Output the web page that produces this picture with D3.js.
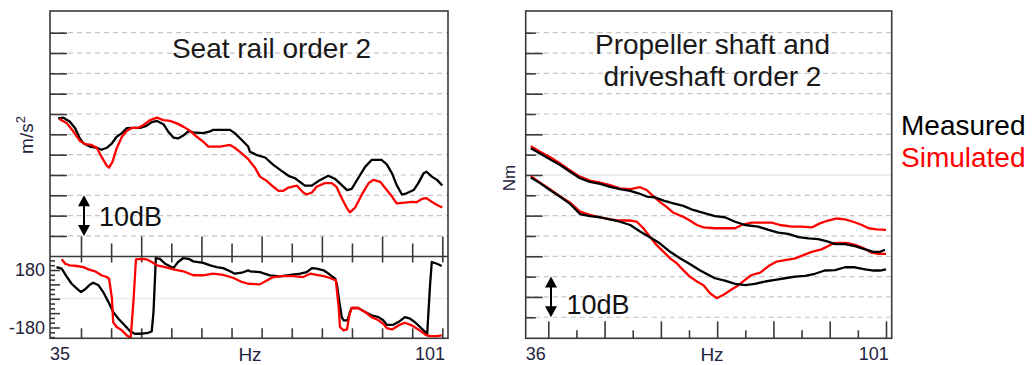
<!DOCTYPE html>
<html><head><meta charset="utf-8">
<script src="https://cdn.jsdelivr.net/npm/d3@7/dist/d3.min.js"></script>
<style>
html,body{margin:0;padding:0;background:#fff;}
svg{display:block;font-family:"Liberation Sans",Arial,sans-serif;}
</style></head><body>
<svg id="chart" width="1032" height="365"></svg>
<script>
// ---------------- DATA ----------------
// x ticks (Hz) shared by both charts; even index = major tick
const hzTicks = [39.2, 44.35, 49.5, 54.65, 59.8, 64.95, 70.1, 75.25, 80.4, 85.55, 90.7, 95.85, 101];
const leftXLabels = ["35", "101"];
const rightXLabels = ["36", "101"];
const phaseLabels = [180, -180];
const seriesNames = ["Measured", "Simulated"];
const titles = ["Seat rail order 2", "Propeller shaft and", "driveshaft order 2"];

// Seat rail magnitude [Hz, dB]
const seatMagMeasured = [[35.3,13.9],[36.2,14.1],[37.3,13.1],[38.2,11.5],[39.0,9.0],[39.6,7.8],[40.7,7.0],[41.9,6.7],[42.7,6.2],[43.6,6.7],[44.5,7.8],[45.3,9.4],[46.2,10.3],[47.0,11.5],[48.2,11.6],[49.3,11.6],[50.4,12.1],[51.3,13.0],[52.2,13.3],[53.3,12.5],[54.1,10.7],[55.0,9.2],[55.8,9.0],[56.7,9.7],[57.6,10.8],[58.4,10.5],[60.1,10.3],[61.3,10.7],[61.8,11.1],[63.5,11.1],[64.7,11.1],[65.5,10.3],[66.7,8.6],[67.8,7.0],[68.1,5.7],[69.3,4.9],[70.7,4.3],[72.1,2.5],[73.5,1.0],[74.7,-0.2],[75.8,-0.8],[77.5,-2.6],[78.7,-2.6],[79.8,-1.5],[81.5,-0.2],[82.7,-1.0],[83.8,-2.5],[84.7,-3.7],[85.5,-3.4],[86.6,-0.8],[87.8,2.0],[88.9,3.7],[90.6,3.7],[91.5,2.6],[92.4,0.4],[93.2,-2.5],[94.1,-4.8],[94.9,-4.5],[96.1,-3.7],[96.9,-2.0],[97.8,0.4],[98.3,0.8],[99.2,-0.4],[100.1,-1.2],[101.0,-2.6]];
const seatMagSimulated = [[35.5,13.8],[36.8,12.7],[37.9,10.7],[39.0,8.4],[39.9,7.6],[41.0,7.4],[41.9,6.7],[42.7,4.5],[43.6,2.3],[44.0,1.8],[44.6,3.3],[45.3,6.6],[46.2,9.4],[47.0,10.8],[47.9,11.6],[49.0,11.6],[49.9,12.3],[51.0,13.5],[52.2,14.1],[53.3,13.5],[54.4,13.3],[55.6,12.7],[56.7,11.9],[57.9,10.8],[59.0,9.4],[60.1,8.2],[61.0,7.0],[63.0,7.0],[64.7,7.4],[65.5,6.7],[66.7,5.3],[67.8,3.9],[68.1,3.3],[69.0,1.7],[69.8,-0.4],[71.0,-1.5],[72.1,-2.9],[73.0,-3.9],[73.8,-3.9],[74.7,-3.1],[76.1,-2.6],[77.2,-4.3],[77.8,-4.8],[78.7,-4.3],[79.5,-2.9],[80.9,-2.0],[82.1,-2.0],[82.9,-2.9],[83.8,-5.7],[84.7,-8.2],[85.2,-9.2],[86.1,-8.0],[87.2,-4.9],[88.4,-2.0],[89.2,-1.2],[90.4,-1.7],[91.5,-3.7],[92.4,-5.3],[93.2,-7.0],[94.6,-6.8],[95.8,-6.6],[96.6,-6.7],[97.5,-5.9],[98.3,-5.7],[99.2,-6.6],[100.1,-7.4],[101.0,-8.0]];

// Seat rail phase [Hz, deg]
const seatPhaseMeasured = [[35.0,198],[35.9,188],[36.8,136],[37.6,94],[38.5,63],[39.2,42],[39.9,59],[40.7,88],[41.3,100],[42.2,84],[43.0,42],[43.9,-21],[44.7,-83],[45.6,-125],[46.7,-167],[47.6,-204],[48.4,-219],[49.6,-219],[50.7,-213],[51.3,-204],[51.6,-83],[51.9,167],[52.0,255],[52.7,250],[53.6,219],[55.0,192],[55.8,230],[56.7,255],[57.6,250],[58.4,234],[60.1,225],[61.3,209],[62.4,198],[63.5,192],[64.7,172],[65.5,157],[66.7,163],[67.8,178],[68.1,172],[69.8,167],[71.5,146],[73.2,140],[75.0,150],[76.7,157],[77.8,167],[78.7,192],[79.5,188],[80.7,178],[81.8,150],[82.7,125],[83.0,84],[83.4,-21],[83.8,-115],[84.1,-135],[84.8,-135],[85.2,-83],[85.5,-58],[86.6,-58],[87.8,-83],[88.9,-104],[90.1,-115],[90.9,-135],[91.5,-163],[92.6,-163],[93.5,-146],[94.6,-115],[95.5,-125],[96.3,-146],[97.2,-177],[98.1,-209],[98.4,-229],[98.9,84],[99.2,230],[100.1,219],[100.9,205]];
const seatPhaseSimulated = [[35.9,247],[36.5,219],[37.3,209],[38.5,205],[39.6,198],[40.5,184],[41.6,172],[42.7,147],[43.6,136],[44.0,125],[44.5,0],[44.7,-146],[45.3,-177],[46.2,-198],[47.0,-229],[47.7,-246],[48.2,0],[48.6,247],[49.6,250],[50.4,247],[51.3,230],[52.2,209],[53.6,198],[55.0,184],[56.7,172],[58.4,147],[60.1,147],[61.8,157],[63.5,150],[65.3,130],[66.7,105],[67.8,94],[69.8,90],[71.0,115],[72.1,136],[73.8,142],[75.5,142],[77.2,136],[78.4,157],[79.5,150],[80.7,142],[81.8,130],[82.8,115],[83.0,42],[83.3,-63],[83.5,-177],[84.1,-198],[84.7,-192],[85.1,-104],[85.5,-58],[86.6,-58],[87.8,-83],[88.9,-115],[90.1,-135],[90.9,-157],[91.5,-184],[92.4,-192],[93.5,-167],[94.6,-150],[95.8,-167],[96.9,-192],[98.1,-225],[98.9,-234],[100.1,-234],[100.9,-229]];

// Propeller shaft / driveshaft magnitude [Hz, dB]
const shaftMeasuredA = [[36.0,6.6],[37.7,5.3],[39.5,3.9],[41.3,2.5],[43.2,0.8],[45.0,-0.8],[46.8,-1.7],[48.7,-2.2],[50.5,-2.9],[52.3,-3.5],[54.2,-3.9],[55.7,-4.5],[57.2,-5.3],[58.7,-5.5],[60.3,-6.3],[62.1,-7.0],[63.9,-7.6],[65.7,-8.6],[67.6,-9.3],[69.7,-10.1],[71.5,-10.4],[73.4,-11.5],[75.2,-12.3],[77.6,-12.7],[79.5,-13.5],[81.3,-14.2],[83.1,-14.5],[85.0,-15.3],[86.8,-15.6],[88.6,-15.8],[90.4,-16.4],[91.7,-17.0],[93.5,-17.0],[95.3,-17.5],[97.2,-18.3],[98.7,-18.9],[99.9,-18.9],[100.8,-18.4]];
const shaftSimulatedA = [[36.0,7.1],[37.7,5.7],[39.5,4.4],[41.3,2.9],[43.2,1.1],[45.0,-0.4],[46.8,-1.4],[48.7,-1.9],[50.5,-2.5],[52.3,-3.3],[54.2,-3.5],[56.0,-3.0],[57.2,-3.7],[58.4,-5.2],[59.6,-6.6],[60.9,-7.9],[62.1,-9.3],[63.9,-10.3],[65.1,-11.2],[66.4,-12.3],[67.6,-12.9],[69.7,-13.1],[71.5,-13.1],[73.4,-13.1],[74.6,-12.3],[76.4,-11.7],[78.3,-11.7],[80.1,-11.7],[81.6,-12.3],[83.8,-12.7],[85.6,-12.7],[87.4,-12.9],[88.9,-11.9],[90.4,-11.2],[92.0,-10.7],[93.5,-10.9],[95.0,-11.5],[96.6,-12.3],[97.8,-13.1],[99.3,-13.4],[101.0,-13.5]];
const shaftMeasuredB = [[36.0,-0.6],[37.7,-2.0],[39.5,-3.7],[41.3,-5.3],[43.2,-7.1],[45.0,-9.6],[46.8,-10.1],[48.7,-10.4],[50.5,-10.9],[52.3,-11.5],[54.2,-12.3],[56.0,-13.9],[57.8,-15.3],[59.6,-16.8],[61.5,-18.9],[63.3,-20.5],[65.1,-21.9],[67.0,-23.5],[69.7,-25.4],[71.5,-26.0],[73.4,-26.8],[75.2,-27.1],[77.0,-26.8],[78.9,-26.2],[80.7,-25.8],[82.5,-25.4],[84.4,-25.0],[86.2,-24.8],[88.0,-24.3],[89.8,-23.5],[91.7,-23.4],[93.5,-22.7],[95.3,-22.7],[97.2,-23.2],[98.7,-23.5],[99.9,-23.5],[101.0,-23.2]];
const shaftSimulatedB = [[36.0,-0.3],[37.7,-1.9],[39.5,-3.5],[41.3,-5.2],[43.2,-6.8],[45.0,-9.0],[46.8,-9.8],[48.7,-10.4],[50.5,-10.9],[52.3,-11.2],[54.2,-11.2],[55.4,-11.5],[56.6,-13.1],[57.8,-15.2],[59.0,-17.2],[60.3,-18.9],[61.5,-20.5],[62.7,-21.7],[63.9,-23.4],[65.1,-25.0],[66.4,-26.2],[67.6,-27.1],[68.8,-29.1],[70.0,-30.3],[71.2,-29.5],[72.8,-28.1],[74.0,-27.1],[75.2,-25.8],[76.4,-24.6],[78.0,-24.0],[79.5,-22.4],[81.0,-21.3],[82.8,-20.9],[84.4,-20.5],[85.9,-19.7],[87.4,-18.9],[89.2,-18.3],[90.8,-17.2],[91.7,-16.7],[93.8,-16.7],[95.3,-17.2],[96.9,-18.0],[98.4,-19.1],[99.6,-19.4],[101.0,-19.4]];

// grid / tick levels (dB)
const seatGrid = [35,30,25,20,15,10,5,0,-5,-10,-15];
const shaftGrid = [35,30,25,20,15,10,5,0,-5,-10,-15,-20,-25,-30,-35];
const phaseTicks = [240,210,180,150,120,90,60,30,0,-30,-60,-90,-120,-150,-180,-210,-240];

// ---------------- DRAW ----------------
const svg = d3.select("#chart");
const RED = "#ff0000", BLK = "#000000", FRAME = "#3a3a3a", LBL = "#1f2340";

const L = {x0: 50, x1: 448, top: 11, mid: 256.5, bot: 338.3};
const R = {x0: 525.7, x1: 891.7, top: 11, bot: 338.3};

const xL = d3.scaleLinear().domain([35, 101]).range([56.45, 442.3]);
const yLmag = d3.scaleLinear().domain([-20, 35]).range([256.3, 32.7]);
const yLph = d3.scaleLinear().domain([-180, 180]).range([327.5, 270]);
const xR = d3.scaleLinear().domain([36, 101]).range([530.8, 886]);
const yR = d3.scaleLinear().domain([-40, 35]).range([337.6, 32.7]);

const defs = svg.append("defs");
function clip(id, x, y, w, h) {
  defs.append("clipPath").attr("id", id).append("rect").attr("x", x).attr("y", y).attr("width", w).attr("height", h);
}
clip("cLm", L.x0, L.top, L.x1 - L.x0, L.mid - L.top);
clip("cLp", L.x0, L.mid, L.x1 - L.x0, L.bot - L.mid);
clip("cR", R.x0, R.top, R.x1 - R.x0, R.bot - R.top);

function grid(vals, ys, x0, x1, solidVal) {
  svg.append("g").selectAll("line").data(vals).join("line")
    .attr("x1", x0).attr("x2", x1)
    .attr("y1", d => ys(d)).attr("y2", d => ys(d))
    .attr("stroke", d => d === solidVal ? "#e2e2e2" : "#c4c4c4")
    .attr("stroke-width", 1.2)
    .attr("stroke-dasharray", d => d === solidVal ? null : "5,4");
}
grid(seatGrid, yLmag, L.x0, L.x1, null);
grid(shaftGrid, yR, R.x0, R.x1, 0);
grid([0], yLph, L.x0, L.x1, 0);

function styleAxis(g) {
  g.select(".domain").remove();
  g.selectAll(".tick line").attr("stroke", FRAME).attr("stroke-width", 1.6);
  g.selectAll(".tick text").remove();
}
const majorHz = hzTicks.filter((d, i) => i % 2 === 0);
const minorHz = hzTicks.filter((d, i) => i % 2 === 1);

svg.append("g").attr("transform", `translate(0,${L.mid})`).call(d3.axisTop(xL).tickValues(majorHz).tickSize(20)).call(styleAxis);
svg.append("g").attr("transform", `translate(0,${L.mid})`).call(d3.axisTop(xL).tickValues(minorHz).tickSize(13)).call(styleAxis);
svg.append("g").attr("transform", `translate(${L.x0},0)`).call(d3.axisRight(yLmag).tickValues(seatGrid.filter(d => d % 10 === 0)).tickSize(17)).call(styleAxis);
svg.append("g").attr("transform", `translate(${L.x0},0)`).call(d3.axisRight(yLmag).tickValues(seatGrid.filter(d => d % 10 !== 0)).tickSize(17)).call(styleAxis);
svg.append("g").attr("transform", `translate(0,${L.mid})`).call(d3.axisBottom(xL).tickValues(hzTicks).tickSize(6)).call(styleAxis);
svg.append("g").attr("transform", `translate(0,${L.bot})`).call(d3.axisTop(xL).tickValues(hzTicks).tickSize(10)).call(styleAxis);
svg.append("g").attr("transform", `translate(${L.x0},0)`).call(d3.axisRight(yLph).tickValues(phaseTicks.filter(d => d % 90 === 0)).tickSize(10)).call(styleAxis);
svg.append("g").attr("transform", `translate(${L.x0},0)`).call(d3.axisRight(yLph).tickValues(phaseTicks.filter(d => d % 90 !== 0)).tickSize(5)).call(styleAxis);
svg.append("g").attr("transform", `translate(${L.x0},0)`)
  .call(d3.axisLeft(yLph).tickValues(phaseLabels).tickSize(0).tickPadding(5).tickFormat(d => String(d)))
  .call(g => g.select(".domain").remove())
  .call(g => g.selectAll("text").attr("font-size", 18).attr("fill", LBL).attr("font-family", '"Liberation Sans",Arial,sans-serif'));

svg.append("g").attr("transform", `translate(0,${R.bot})`).call(d3.axisTop(xR).tickValues(majorHz).tickSize(17)).call(styleAxis);
svg.append("g").attr("transform", `translate(0,${R.bot})`).call(d3.axisTop(xR).tickValues(minorHz).tickSize(8)).call(styleAxis);
svg.append("g").attr("transform", `translate(${R.x0},0)`).call(d3.axisRight(yR).tickValues(shaftGrid.filter(d => d % 10 === 0)).tickSize(17)).call(styleAxis);
svg.append("g").attr("transform", `translate(${R.x0},0)`).call(d3.axisRight(yR).tickValues(shaftGrid.filter(d => d % 10 !== 0)).tickSize(10)).call(styleAxis);

function line(xs, ys) { return d3.line().x(d => xs(d[0])).y(d => ys(d[1])); }
function drawLine(data, xs, ys, color, clipId) {
  svg.append("path").datum(data).attr("d", line(xs, ys))
    .attr("fill", "none").attr("stroke", color).attr("stroke-width", 2.3)
    .attr("stroke-linejoin", "round").attr("clip-path", `url(#${clipId})`);
}
drawLine(seatMagMeasured, xL, yLmag, BLK, "cLm");
drawLine(seatMagSimulated, xL, yLmag, RED, "cLm");
drawLine(seatPhaseMeasured, xL, yLph, BLK, "cLp");
drawLine(seatPhaseSimulated, xL, yLph, RED, "cLp");
drawLine(shaftSimulatedA, xR, yR, RED, "cR");
drawLine(shaftSimulatedB, xR, yR, RED, "cR");
drawLine(shaftMeasuredA, xR, yR, BLK, "cR");
drawLine(shaftMeasuredB, xR, yR, BLK, "cR");

svg.append("rect").attr("x", L.x0).attr("y", L.top).attr("width", L.x1 - L.x0).attr("height", L.bot - L.top)
  .attr("fill", "none").attr("stroke", FRAME).attr("stroke-width", 1.6);
svg.append("line").attr("x1", L.x0).attr("x2", L.x1).attr("y1", L.mid).attr("y2", L.mid).attr("stroke", FRAME).attr("stroke-width", 1.6);
svg.append("rect").attr("x", R.x0).attr("y", R.top).attr("width", R.x1 - R.x0).attr("height", R.bot - R.top)
  .attr("fill", "none").attr("stroke", FRAME).attr("stroke-width", 1.6);

function dbArrow(x, ys, hi, lo) {
  const y1 = ys(hi), y2 = ys(lo);
  const g = svg.append("g");
  g.append("line").attr("x1", x).attr("x2", x).attr("y1", y1 + 8).attr("y2", y2 - 8).attr("stroke", BLK).attr("stroke-width", 2);
  g.append("path").attr("d", `M${x},${y1} L${x - 6},${y1 + 11} L${x + 6},${y1 + 11} Z`).attr("fill", BLK);
  g.append("path").attr("d", `M${x},${y2} L${x - 6},${y2 - 11} L${x + 6},${y2 - 11} Z`).attr("fill", BLK);
}
dbArrow(84, yLmag, -5, -15);
dbArrow(551, yR, -25, -35);

function txt(x, y, s, size, color, anchor) {
  return svg.append("text").attr("x", x).attr("y", y).attr("font-size", size).attr("fill", color)
    .attr("text-anchor", anchor || "start").text(s);
}
txt(99, 226, "10dB", 27, "#111");
txt(566.5, 314, "10dB", 27, "#111");

txt(271.5, 58, titles[0], 28, "#1a1a1a", "middle");
txt(712.5, 54, titles[1], 28, "#1a1a1a", "middle");
txt(712.5, 86, titles[2], 28, "#1a1a1a", "middle");

txt(901, 135, seriesNames[0], 28, BLK);
txt(901, 166.5, seriesNames[1], 28, RED);

txt(L.x0, 360, leftXLabels[0], 18, LBL, "start");
txt(L.x1 - 3, 360, leftXLabels[1], 18, LBL, "end");
txt((L.x0 + L.x1) / 2 + 1, 361, "Hz", 19, LBL, "middle");
txt(R.x0, 360, rightXLabels[0], 18, LBL, "start");
txt(R.x1 - 3, 360, rightXLabels[1], 18, LBL, "end");
txt(712, 361, "Hz", 19, LBL, "middle");

const ml = svg.append("text").attr("transform", "translate(33,135) rotate(-90)").attr("text-anchor", "middle")
  .attr("font-size", 19).attr("fill", LBL);
ml.append("tspan").text("m/s");
ml.append("tspan").attr("font-size", 13).attr("dy", -8).text("2");
svg.append("text").attr("transform", "translate(515,178) rotate(-90)").attr("text-anchor", "middle")
  .attr("font-size", 17).attr("fill", LBL).text("Nm");
</script>
</body></html>
